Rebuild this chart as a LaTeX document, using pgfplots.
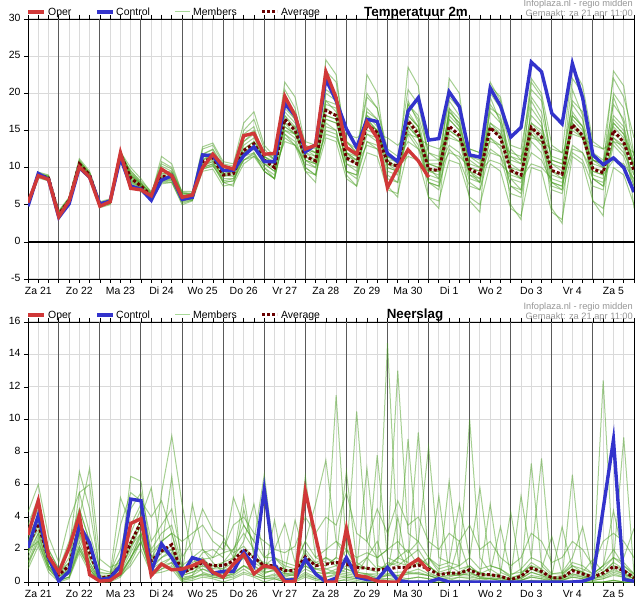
\documentclass[border=0pt]{standalone}
\usepackage{fontspec}
\setmainfont{Liberation Sans}
\usepackage{pgfplots}
\usepackage{pgfplotstable}
\pgfplotsset{compat=1.18}

\definecolor{operred}{RGB}{208,56,56}
\definecolor{ctrlblue}{RGB}{51,51,204}
\definecolor{avgred}{RGB}{105,0,0}
\definecolor{memgreen}{RGB}{75,160,35}
\definecolor{memlegend}{RGB}{168,216,152}
\definecolor{lightgrid}{RGB}{218,218,218}
\definecolor{darkgrid}{RGB}{90,90,90}
\definecolor{infogray}{RGB}{150,150,150}

\pgfplotstableread{
i oper ctrl avg m1 m2 m3 m4 m5 m6 m7 m8 m9 m10 m11 m12 m13 m14 m15 m16 m17 m18
0 5.3 4.8 5.0 5.2 4.9 5.1 5.0 5.1 4.9 5.0 5.2 4.8 5.0 4.9 5.1 5.0 5.1 4.9 5.2 5.0 4.8
1 8.9 9.2 9.0 9.4 8.6 9.2 8.8 9.1 8.9 9.0 9.3 8.7 9.1 8.8 9.2 9.1 8.9 9.2 9.0 8.8 9.1
2 8.4 8.4 8.6 9.0 8.2 8.8 8.4 8.7 8.5 8.6 8.9 8.3 8.7 8.4 8.8 8.5 8.7 8.8 8.6 8.4 8.7
3 3.4 3.3 3.7 4.2 3.0 4.0 3.2 3.8 3.5 3.8 4.1 3.3 3.6 3.4 3.9 3.5 3.9 3.4 4.0 3.6 3.2
4 5.5 5.1 5.6 6.0 5.2 5.8 5.4 5.7 5.5 5.6 5.9 5.3 5.6 5.4 5.8 5.5 5.7 5.4 5.9 5.6 5.3
5 10.1 10.0 10.5 11.2 9.8 10.8 10.0 10.6 10.3 10.6 11.0 10.2 10.4 10.1 10.8 10.3 10.7 10.9 10.4 10.2 10.6
6 8.7 8.7 9.0 9.5 8.5 9.3 8.6 9.1 8.8 9.0 9.2 8.7 9.1 8.8 9.2 8.9 9.1 9.3 9.0 8.8 9.2
7 4.8 5.1 5.0 5.4 4.6 5.3 4.7 5.1 4.9 5.0 5.2 4.8 5.1 4.9 5.2 4.9 5.1 5.3 4.8 5.0 5.2
8 5.4 5.5 5.4 5.8 5.0 5.6 5.2 5.5 5.3 5.4 5.7 5.1 5.5 5.2 5.6 5.3 5.5 5.6 5.2 5.4 5.6
9 12.0 11.3 11.8 12.3 11.2 12.0 11.5 12.2 11.6 11.9 12.1 11.4 11.9 11.6 12.1 11.7 12.0 11.5 12.2 11.8 11.4
10 7.2 7.5 8.6 9.2 8.0 9.5 8.2 8.8 8.4 8.7 10.0 7.6 8.9 8.3 9.0 8.5 9.3 7.8 9.0 8.1 9.6
11 7.0 7.1 7.5 7.9 7.0 8.2 7.2 7.6 7.4 7.5 8.5 6.8 7.7 7.3 7.8 7.4 7.9 7.1 7.8 7.2 8.0
12 6.2 5.6 6.2 6.5 5.5 6.8 5.8 6.3 6.0 6.2 6.6 5.7 6.3 6.0 6.4 6.1 6.5 5.9 6.4 5.8 6.6
13 9.8 8.3 8.8 10.2 8.0 9.5 7.8 9.0 8.5 8.8 10.5 8.2 11.5 8.3 9.2 8.7 9.6 8.1 10.8 8.4 9.3
14 8.9 8.9 8.8 9.5 8.0 9.3 8.0 9.0 8.5 8.8 9.8 8.3 10.5 8.4 9.2 8.6 9.4 8.2 10.0 8.5 9.1
15 6.0 5.7 6.0 6.5 5.0 6.8 5.2 6.2 5.8 6.0 6.4 5.5 6.6 5.6 6.2 5.9 6.3 5.4 6.7 5.6 6.2
16 6.3 6.0 6.1 6.5 5.5 6.8 5.6 6.3 5.9 6.1 6.6 5.8 6.3 5.8 6.4 6.0 6.4 5.6 6.5 5.7 6.3
17 10.0 11.7 10.8 12.5 9.5 11.0 11.5 11.8 9.8 10.5 10.2 10.0 11.5 10.0 11.0 10.6 11.8 9.8 12.8 10.4 11.2
18 11.8 11.6 11.3 13.0 9.8 11.5 12.0 12.5 10.2 11.0 10.8 10.5 12.0 10.5 11.8 11.2 12.4 10.3 13.3 10.8 11.6
19 10.2 9.6 9.0 10.5 7.5 10.0 8.0 10.2 8.5 9.5 8.8 9.0 9.0 8.0 9.2 9.2 9.8 8.0 10.8 8.2 9.5
20 9.8 9.6 9.2 10.2 7.8 10.0 7.5 10.0 8.5 9.8 9.0 9.2 8.8 8.2 9.5 9.4 10.0 8.2 10.5 8.5 9.8
21 14.3 11.6 12.3 15.0 10.5 12.0 13.5 14.0 11.0 12.5 12.0 11.0 14.5 11.5 13.0 12.0 13.5 11.0 16.0 11.8 12.5
22 14.6 12.8 13.2 16.5 11.5 12.5 14.5 15.0 12.0 13.5 13.0 11.5 15.5 12.0 14.0 13.0 14.8 11.8 17.5 12.5 13.5
23 11.8 10.8 11.0 12.5 9.5 12.0 10.0 12.0 10.0 11.5 10.5 10.5 11.0 9.5 11.5 11.2 12.0 9.5 13.0 10.5 11.5
24 11.9 10.8 10.0 11.0 8.5 11.5 8.5 11.0 9.0 10.5 9.5 10.0 10.0 8.5 10.5 10.5 11.2 8.5 11.5 9.5 10.8
25 19.6 18.6 16.5 19.0 14.5 15.0 18.5 18.0 14.0 16.0 17.0 13.5 20.5 15.0 15.5 15.5 17.5 14.5 21.5 16.0 17.0
26 17.0 17.0 15.0 17.5 13.0 14.5 16.5 16.5 13.0 15.5 15.0 13.0 18.0 14.0 14.5 14.5 16.0 13.5 19.5 14.5 15.5
27 12.5 12.1 11.5 13.0 9.5 13.5 9.5 12.5 10.5 11.0 11.5 11.0 12.0 10.0 12.0 11.5 12.5 10.0 13.0 11.0 12.5
28 13.0 13.1 10.9 12.0 9.0 13.0 8.0 12.0 10.0 10.0 10.5 10.5 11.0 9.0 11.5 11.0 11.5 9.0 12.5 10.5 12.0
29 22.9 21.9 17.7 21.5 14.0 16.5 20.0 20.5 15.0 18.5 17.0 14.5 24.5 16.0 19.0 16.5 19.0 15.5 23.0 17.0 18.0
30 19.4 19.0 17.0 20.0 13.5 16.0 19.0 19.5 14.5 18.0 16.5 14.0 22.5 15.0 17.5 16.0 18.5 15.0 21.5 16.5 17.0
31 12.7 15.2 11.3 13.5 8.5 14.5 9.0 13.5 9.5 12.0 10.5 11.0 12.0 9.5 12.5 11.5 12.0 9.5 13.5 10.5 12.0
32 11.8 12.7 10.5 12.0 7.5 14.0 7.5 12.0 9.0 11.0 10.0 10.5 10.5 9.0 11.5 11.0 11.0 8.5 12.5 9.5 11.5
33 16.1 16.5 15.8 19.5 12.0 15.0 18.0 17.0 16.0 16.5 14.5 13.0 22.5 13.5 17.5 14.5 17.0 13.5 20.0 16.5 16.0
34 14.0 16.2 14.7 18.0 11.5 14.5 16.5 15.5 15.0 15.0 13.5 12.5 20.0 12.5 16.5 14.0 16.0 13.0 18.0 15.0 15.0
35 7.3 11.9 10.6 12.5 7.0 14.0 7.5 10.0 11.0 11.0 9.5 10.5 10.5 8.5 12.0 11.5 11.0 9.0 11.5 10.0 11.5
36 10.0 10.8 10.2 11.5 6.5 13.0 6.0 9.5 11.0 10.0 9.0 10.0 9.5 8.0 11.0 11.0 10.0 8.0 10.5 9.5 11.0
37 12.4 17.6 16.3 20.5 12.5 14.5 19.0 14.5 18.5 17.0 16.0 11.5 23.5 15.0 15.5 13.5 18.5 15.5 17.0 17.5 16.5
38 10.9 19.4 14.5 18.5 11.0 14.0 16.0 12.5 17.0 15.5 14.0 11.0 21.0 13.0 14.0 12.5 16.5 14.0 15.5 15.5 15.0
39 8.7 13.7 9.8 12.0 6.0 13.0 6.0 8.0 12.0 10.5 8.5 9.5 10.0 8.0 10.5 10.5 10.0 8.0 9.0 9.5 11.0
40 nan 13.9 9.6 11.0 5.5 12.5 4.5 7.5 11.5 10.0 8.0 9.5 8.5 7.5 10.5 10.0 9.5 7.0 8.5 9.0 11.0
41 nan 20.2 15.6 19.0 11.0 14.0 18.0 12.5 19.5 15.0 17.5 12.0 22.0 16.5 17.0 13.0 17.5 14.5 16.5 18.0 15.0
42 nan 18.2 14.3 17.0 10.5 13.5 15.5 11.0 18.0 14.0 16.0 11.5 20.0 15.0 15.5 12.0 16.0 13.5 15.0 16.5 14.0
43 nan 11.7 9.8 11.5 6.0 12.5 5.5 7.5 12.5 9.0 9.0 10.0 9.5 8.5 11.0 9.5 10.5 8.0 9.5 10.0 11.5
44 nan 11.4 9.1 10.5 5.0 12.0 4.0 7.0 12.0 8.5 8.0 9.5 8.0 8.0 10.0 9.0 10.0 7.0 8.5 9.5 11.0
45 nan 20.7 15.4 20.0 10.5 13.5 19.5 12.0 21.0 16.0 18.0 11.0 21.5 14.0 15.5 12.5 18.5 14.0 15.5 17.5 16.0
46 nan 18.3 14.0 18.0 9.5 13.0 16.0 11.5 19.5 14.5 17.0 10.5 19.0 12.5 14.5 11.5 16.5 13.0 14.0 16.0 15.0
47 nan 14.1 9.6 12.5 4.5 12.0 5.0 6.5 13.0 10.0 10.0 9.0 8.5 7.5 11.0 8.5 11.5 7.5 9.5 10.5 11.5
48 nan 15.4 9.0 11.0 3.5 11.5 3.0 6.0 12.5 9.5 8.5 8.5 7.0 7.0 10.5 8.0 10.5 6.5 8.5 9.5 11.0
49 nan 24.2 15.4 22.0 10.0 14.0 19.0 13.5 20.5 15.0 21.5 10.5 18.0 14.5 16.0 12.0 19.5 14.5 16.0 15.5 17.0
50 nan 22.9 14.1 20.0 9.5 13.5 16.5 12.0 19.0 13.5 19.5 10.0 16.0 13.0 15.0 11.0 17.5 13.5 14.5 14.0 15.5
51 nan 17.3 9.6 13.0 4.0 12.5 4.5 7.0 11.0 9.0 10.5 8.5 8.0 7.5 10.5 8.0 11.0 8.0 9.5 9.5 11.5
52 nan 15.9 9.1 12.0 3.0 12.0 2.5 6.5 10.5 8.5 9.5 8.0 7.5 7.0 10.0 7.5 10.5 7.0 8.5 9.0 11.0
53 nan 24.0 15.8 23.5 11.5 14.5 20.5 12.0 19.0 16.5 22.0 12.5 17.5 16.0 17.0 13.0 18.5 16.0 15.5 17.0 15.0
54 nan 19.4 14.3 21.0 10.5 14.0 17.0 11.0 17.5 15.0 20.0 12.0 15.5 14.0 15.5 12.0 16.5 14.5 14.0 15.5 14.0
55 nan 11.7 9.8 13.5 5.5 13.0 5.5 7.5 12.0 10.5 11.0 9.5 9.0 8.5 11.0 8.5 11.0 8.5 9.5 10.0 11.0
56 nan 10.4 9.3 12.5 4.5 12.5 3.5 7.0 11.0 10.0 10.0 9.0 8.5 7.5 10.5 8.0 10.5 7.5 9.0 9.5 10.5
57 nan 11.3 15.0 22.0 10.0 13.5 19.5 13.0 18.5 15.5 23.0 11.0 20.0 14.0 16.0 13.5 17.0 14.0 16.0 16.5 14.5
58 nan 10.0 13.4 19.5 9.0 13.0 16.0 11.5 16.5 14.0 21.0 10.5 18.0 12.5 14.5 12.0 15.5 13.0 14.5 15.0 13.5
59 nan 6.7 9.6 14.0 5.0 12.0 4.5 7.5 11.5 10.0 11.5 8.5 9.0 7.5 11.0 9.0 10.5 8.0 10.0 10.0 10.5
}\temp

\pgfplotstableread{
i oper ctrl avg m1 m2 m3 m4 m5 m6 m7 m8 m9 m10 m11 m12 m13 m14 m15 m16 m17 m18
0 2.9 2.1 2.2 3.0 1.5 4.3 2.0 2.5 0.8 1.8 3.5 1.2 2.8 2.2 1.0 2.5 1.8 3.2 2.0 1.2 2.6
1 5.0 4.1 3.6 4.5 3.0 6.0 2.5 3.8 2.2 3.5 5.2 2.8 4.0 3.2 2.6 3.5 3.0 4.8 3.8 2.4 4.2
2 1.6 1.5 1.4 1.8 1.0 2.8 0.8 1.5 0.6 1.2 2.0 1.0 1.6 1.3 0.9 1.3 1.0 2.0 1.5 0.8 1.6
3 0.6 0.05 0.45 0.5 0.2 1.2 0.1 0.6 0.0 0.3 0.8 0.2 0.5 0.4 0.1 0.3 0.2 0.8 0.5 0.1 0.4
4 2.1 0.65 1.0 1.5 0.5 3.8 0.3 1.2 0.2 0.8 2.0 0.5 1.0 0.6 0.3 0.8 0.6 2.5 1.2 0.3 0.9
5 4.1 3.5 3.4 4.5 2.5 5.5 2.0 3.5 1.8 3.0 6.8 2.2 4.0 3.0 2.0 3.2 2.8 4.5 3.8 2.2 5.5
6 0.45 2.4 1.8 2.5 1.0 3.0 0.8 2.0 0.6 1.5 4.5 1.0 7.0 1.2 0.8 1.5 1.2 2.5 2.0 0.8 6.0
7 0.05 0.15 0.25 0.2 0.0 0.8 0.0 0.3 0.0 0.2 0.6 0.1 1.4 0.1 0.0 0.2 0.1 0.5 0.3 0.0 0.4
8 0.1 0.25 0.35 0.3 0.1 0.6 0.0 0.4 0.1 0.3 0.5 0.2 0.9 0.2 0.1 0.3 0.2 0.5 0.4 0.1 0.3
9 0.55 1.0 1.0 1.5 0.5 2.0 0.3 1.0 0.4 0.8 5.2 0.5 1.2 0.7 0.4 0.8 0.6 1.5 1.2 0.4 3.5
10 3.6 5.1 2.4 3.0 1.5 4.5 1.2 2.5 1.0 2.0 3.5 1.5 6.5 2.2 1.4 2.2 1.8 3.5 2.5 1.5 5.5
11 3.9 5.0 3.7 4.5 2.8 5.5 2.5 3.8 2.0 3.5 4.0 2.5 6.2 3.0 3.0 3.5 3.0 4.8 3.8 2.5 5.0
12 0.4 0.65 1.3 1.8 0.6 2.5 0.4 1.2 0.5 1.0 5.8 0.6 1.5 0.8 0.5 1.0 0.8 2.0 1.5 0.6 4.0
13 1.1 2.35 1.9 2.5 1.0 3.5 0.8 2.0 0.6 1.5 2.0 5.5 2.5 1.2 0.8 1.8 1.5 3.0 2.0 1.0 5.0
14 0.75 1.5 2.3 3.0 1.5 4.5 1.0 2.2 0.8 2.0 1.5 9.0 3.0 1.5 1.2 2.0 1.8 3.5 6.5 1.2 3.0
15 0.8 0.45 0.55 0.8 0.2 1.5 0.1 0.6 0.0 0.4 0.5 4.8 0.3 0.5 0.1 0.5 0.4 1.0 0.6 0.2 2.5
16 1.0 1.5 0.85 1.2 0.4 2.5 0.2 0.8 0.1 0.6 0.9 1.5 0.4 4.8 0.3 0.8 0.6 1.5 1.0 0.3 3.0
17 1.3 1.3 1.2 1.5 0.8 4.5 0.5 1.2 0.3 1.0 1.8 0.6 1.4 2.0 0.4 1.0 0.8 2.0 1.2 0.5 3.5
18 0.6 0.55 1.0 0.8 0.5 3.2 0.3 1.0 0.2 0.6 2.0 0.4 1.5 1.2 0.3 0.8 0.6 1.5 1.0 0.4 2.5
19 0.3 0.65 1.0 1.2 0.3 2.8 0.2 0.8 0.0 0.5 1.5 0.3 2.5 0.6 0.2 0.8 0.7 1.8 1.2 0.3 2.0
20 1.1 0.65 1.3 2.0 0.5 1.5 0.4 1.5 0.2 0.8 5.2 0.6 1.8 1.0 0.3 1.2 1.0 2.0 1.5 0.5 3.5
21 1.7 1.85 2.0 3.0 1.0 2.5 0.8 5.3 0.5 1.5 3.5 1.0 2.2 4.5 0.6 1.8 1.5 3.5 2.0 1.0 4.0
22 0.5 1.0 1.5 2.0 0.6 4.8 0.4 1.5 0.3 1.0 2.5 0.8 1.5 1.8 0.4 1.2 1.0 2.5 1.5 0.6 3.0
23 1.0 5.7 1.0 1.0 0.3 1.5 0.2 0.8 0.0 0.5 6.6 0.4 1.2 0.6 0.2 0.8 0.6 1.5 1.0 0.3 2.5
24 0.85 1.05 1.0 1.5 0.5 2.0 0.3 1.0 0.2 0.8 1.5 3.8 1.0 0.7 0.2 0.8 0.7 1.5 1.0 0.4 2.0
25 0.0 0.1 0.7 0.8 0.2 3.6 0.1 0.6 0.0 0.5 1.0 0.5 0.8 0.3 0.0 0.5 0.4 1.2 0.6 0.2 1.8
26 0.05 0.15 0.7 0.6 0.3 1.2 0.1 3.8 0.0 0.4 0.8 0.6 0.5 0.5 0.1 0.5 0.4 1.0 0.8 0.2 2.2
27 5.6 1.4 1.55 2.0 0.8 2.5 0.4 1.5 0.3 1.2 6.5 1.0 1.8 1.2 0.5 1.2 1.0 2.5 1.5 0.6 4.0
28 2.8 0.5 1.0 1.2 0.5 4.8 0.2 1.0 0.1 0.8 1.5 0.6 1.0 0.8 0.2 0.8 0.6 1.5 1.2 0.3 3.0
29 0.0 0.0 1.1 1.5 0.3 7.5 0.1 1.0 0.0 0.8 1.2 0.5 1.5 0.6 0.1 0.8 0.5 2.0 1.0 0.3 4.0
30 0.0 0.25 1.2 1.0 0.5 2.5 0.2 1.5 0.1 0.6 11.5 0.8 1.2 0.5 0.0 1.0 0.6 2.5 1.5 0.4 3.5
31 3.3 1.5 1.1 2.0 0.4 1.5 0.3 6.8 0.1 1.0 2.0 0.6 1.5 0.8 0.2 0.8 0.5 2.0 1.2 0.3 5.5
32 0.4 0.3 0.9 1.0 0.3 10.5 0.2 1.2 0.0 0.6 0.8 0.5 1.0 0.5 0.1 0.6 0.4 1.5 1.0 0.2 3.0
33 0.3 0.15 0.85 1.5 0.5 2.5 0.1 0.8 0.0 0.5 7.0 0.3 0.8 1.5 0.0 0.5 0.4 1.8 0.8 0.2 2.5
34 0.05 0.15 0.75 0.8 0.2 1.5 0.1 7.8 0.1 0.4 1.0 0.2 0.6 2.5 0.0 0.5 0.3 1.5 0.8 0.2 4.5
35 0.0 0.9 0.8 1.0 0.4 2.0 0.2 1.5 0.0 14.7 0.8 0.5 1.2 0.6 0.1 0.5 0.4 2.0 1.0 0.2 3.0
36 0.0 0.1 0.9 1.5 0.3 13.0 0.1 1.2 0.0 2.0 1.5 0.4 1.0 4.0 0.0 0.6 0.4 2.5 1.2 0.3 5.0
37 1.0 0.0 0.9 2.0 0.5 3.0 0.2 8.8 0.1 0.8 1.2 0.6 1.5 0.8 0.0 0.6 0.5 1.8 1.0 0.2 3.5
38 1.4 0.0 1.05 1.0 0.6 2.5 0.3 1.5 0.0 1.2 9.2 0.5 2.0 1.5 0.1 0.8 0.5 2.5 1.5 0.3 4.0
39 0.7 0.0 0.8 1.5 0.4 8.3 0.2 1.0 0.0 0.8 1.5 0.4 1.0 0.6 0.0 0.5 0.4 1.5 1.0 0.2 2.5
40 nan 0.2 0.45 0.8 0.2 1.5 0.1 0.5 0.0 5.3 0.6 0.2 0.4 0.3 0.0 0.3 0.2 1.0 0.5 0.1 2.0
41 nan 0.0 0.55 1.0 0.1 1.2 0.0 6.2 0.0 0.5 0.8 0.3 0.6 0.4 0.0 0.4 0.2 1.2 0.6 0.1 3.0
42 nan 0.0 0.55 0.6 0.3 4.8 0.1 0.8 0.0 0.4 1.0 0.5 0.5 2.5 0.0 0.4 0.3 1.0 0.5 0.1 2.5
43 nan 0.0 0.75 1.0 0.2 1.5 0.0 1.0 0.0 0.6 10.0 0.4 0.8 0.6 0.0 0.5 0.3 1.5 0.8 0.1 3.5
44 nan 0.0 0.45 0.5 0.1 5.8 0.0 0.4 0.0 0.3 1.5 0.2 0.6 0.3 0.0 0.3 0.2 0.8 0.5 0.0 2.0
45 nan 0.0 0.45 0.8 0.2 1.0 0.0 4.8 0.0 0.5 0.6 0.2 0.4 0.2 0.0 0.3 0.2 1.0 0.4 0.0 2.5
46 nan 0.0 0.35 0.4 0.1 0.8 0.0 0.6 0.0 0.3 3.4 0.1 0.5 0.2 0.0 0.2 0.1 0.8 0.3 0.0 1.5
47 nan 0.0 0.15 0.2 0.0 0.3 0.0 0.3 0.0 0.1 0.5 0.0 4.3 0.1 0.0 0.1 0.0 0.4 0.2 0.0 1.0
48 nan 0.0 0.35 0.5 0.1 5.3 0.0 0.4 0.0 0.3 0.6 0.1 0.5 0.2 0.0 0.2 0.1 0.8 0.3 0.0 1.5
49 nan 0.0 0.85 1.2 0.3 1.5 0.1 7.3 0.0 0.8 1.0 0.4 1.0 0.6 0.0 0.6 0.3 1.5 0.8 0.1 3.0
50 nan 0.0 0.65 0.8 0.2 7.6 0.0 1.0 0.0 0.5 0.8 0.3 0.6 0.4 0.0 0.4 0.2 1.2 0.6 0.1 2.5
51 nan 0.0 0.25 0.3 0.0 0.5 0.0 0.4 0.0 0.2 2.8 0.1 0.3 0.1 0.0 0.2 0.1 0.5 0.3 0.0 1.2
52 nan 0.0 0.25 0.4 0.1 0.6 0.0 3.4 0.0 0.2 0.5 0.1 0.3 0.2 0.0 0.2 0.1 0.5 0.2 0.0 1.5
53 nan 0.0 0.7 1.0 0.3 1.5 0.0 0.8 0.0 6.6 1.0 0.4 0.8 0.5 0.0 0.5 0.3 1.2 0.8 0.1 2.5
54 nan 0.05 0.5 0.6 0.2 3.4 0.0 0.6 0.0 0.4 0.8 0.3 0.6 0.4 0.0 0.3 0.2 1.0 0.5 0.0 2.0
55 nan 0.25 0.3 0.4 0.1 0.5 0.0 1.4 0.0 0.2 0.5 0.2 0.3 0.2 0.0 0.2 0.1 0.5 0.3 0.0 1.0
56 nan 4.5 0.55 0.8 0.2 1.0 0.0 0.6 0.0 12.4 1.0 0.3 0.6 0.4 0.0 0.4 0.2 1.0 0.6 0.0 2.5
57 nan 8.75 0.95 1.5 0.5 4.4 0.1 1.2 0.0 1.0 2.0 0.6 1.2 0.8 0.1 0.7 0.4 1.5 1.0 0.1 3.0
58 nan 0.15 0.7 1.0 0.3 1.5 0.0 8.9 0.0 0.6 1.0 0.4 0.8 0.5 0.0 0.5 0.3 1.2 0.8 0.0 2.5
59 nan 0.05 0.25 0.4 0.1 3.3 0.0 0.5 0.0 0.2 0.5 0.2 0.3 0.2 0.0 0.2 0.1 0.5 0.3 0.0 1.5
}\rain

\pgfplotsset{
  panel/.style={
    scale only axis, width=606bp, height=260bp,
    xmin=0, xmax=59,
    axis line style={black, line width=0.9bp},
    xtick={1,5,...,57},
    xticklabels={Za 21,Zo 22,Ma 23,Di 24,Wo 25,Do 26,Vr 27,Za 28,Zo 29,Ma 30,Di 1,Wo 2,Do 3,Vr 4,Za 5},
    minor xtick={0,1,...,59},
    extra x ticks={3,7,...,55},
    extra x tick labels={},
    extra x tick style={major grid style={color=darkgrid, line width=1bp}},
    xmajorgrids, xminorgrids, ymajorgrids,
    major grid style={color=lightgrid, line width=1bp},
    minor grid style={color=lightgrid, line width=1bp},
    tick align=outside,
    major tick length=4bp, minor tick length=4bp,
    tick style={black, line width=0.7bp},
    tick label style={font=\fontsize{10.5}{12}\selectfont},
    typeset ticklabels with strut,
    /pgf/number format/assume math mode=true,
    unbounded coords=jump,
  },
  member/.style={color=memgreen, opacity=0.5, line width=1bp},
  avgline/.style={color=avgred, line width=3bp, dash pattern=on 3bp off 2.2bp},
  ctrlline/.style={color=ctrlblue, line width=3.4bp},
  operline/.style={color=operred, line width=3.4bp},
}

\newcommand{\legrow}[2]{%
  \draw[operred, line width=3.4bp] (28bp,#1bp) -- (44bp,#1bp);
  \node[anchor=base west, inner sep=0pt, font=\fontsize{10.5}{12}\selectfont] at (48bp,#2bp) {Oper};
  \draw[ctrlblue, line width=3.4bp] (97bp,#1bp) -- (113bp,#1bp);
  \node[anchor=base west, inner sep=0pt, font=\fontsize{10.5}{12}\selectfont] at (116bp,#2bp) {Control};
  \draw[memlegend, line width=1bp] (175bp,#1bp) -- (190bp,#1bp);
  \node[anchor=base west, inner sep=0pt, font=\fontsize{10.5}{12}\selectfont] at (193bp,#2bp) {Members};
  \draw[avgred, line width=3bp, dash pattern=on 3bp off 2bp] (262bp,#1bp) -- (277bp,#1bp);
  \node[anchor=base west, inner sep=0pt, font=\fontsize{10.5}{12}\selectfont] at (281bp,#2bp) {Average};
}

\begin{document}
\begin{tikzpicture}
\path[use as bounding box] (0,0) rectangle (635bp,607bp);

\begin{axis}[panel, at={(28bp,328bp)}, anchor=south west,
  ymin=-5, ymax=30, ytick={-5,0,...,30}]
  \pgfplotsinvokeforeach{1,...,18}{\addplot[member] table[x=i, y=m#1] {\temp};}
  \addplot[avgline] table[x=i, y=avg] {\temp};
  \addplot[ctrlline] table[x=i, y=ctrl] {\temp};
  \addplot[operline] table[x=i, y=oper] {\temp};
  \draw[black, line width=2bp] (axis cs:0,0) -- (axis cs:59,0);
\end{axis}

\begin{axis}[panel, at={(28bp,25bp)}, anchor=south west,
  ymin=0, ymax=16, ytick={0,2,...,16}]
  \pgfplotsinvokeforeach{1,...,18}{\addplot[member] table[x=i, y=m#1] {\rain};}
  \addplot[avgline] table[x=i, y=avg] {\rain};
  \addplot[ctrlline] table[x=i, y=ctrl] {\rain};
  \addplot[operline] table[x=i, y=oper] {\rain};
\end{axis}

\legrow{595}{591}
\legrow{292}{288}

\node[anchor=base, inner sep=0pt, font=\fontsize{13.4}{15}\selectfont\bfseries] at (416bp,590bp) {Temperatuur 2m};
\node[anchor=base, inner sep=0pt, font=\fontsize{13.4}{15}\selectfont\bfseries] at (415bp,288bp) {Neerslag};

\node[anchor=base east, inner sep=0pt, text=infogray, font=\fontsize{9.3}{11}\selectfont] at (633bp,600.5bp) {Infoplaza.nl - regio midden};
\node[anchor=base east, inner sep=0pt, text=infogray, font=\fontsize{9.3}{11}\selectfont] at (633bp,590.5bp) {Gemaakt: za 21 apr 11:00};
\node[anchor=base east, inner sep=0pt, text=infogray, font=\fontsize{9.3}{11}\selectfont] at (633bp,297.5bp) {Infoplaza.nl - regio midden};
\node[anchor=base east, inner sep=0pt, text=infogray, font=\fontsize{9.3}{11}\selectfont] at (633bp,287.5bp) {Gemaakt: za 21 apr 11:00};
\end{tikzpicture}
\end{document}
